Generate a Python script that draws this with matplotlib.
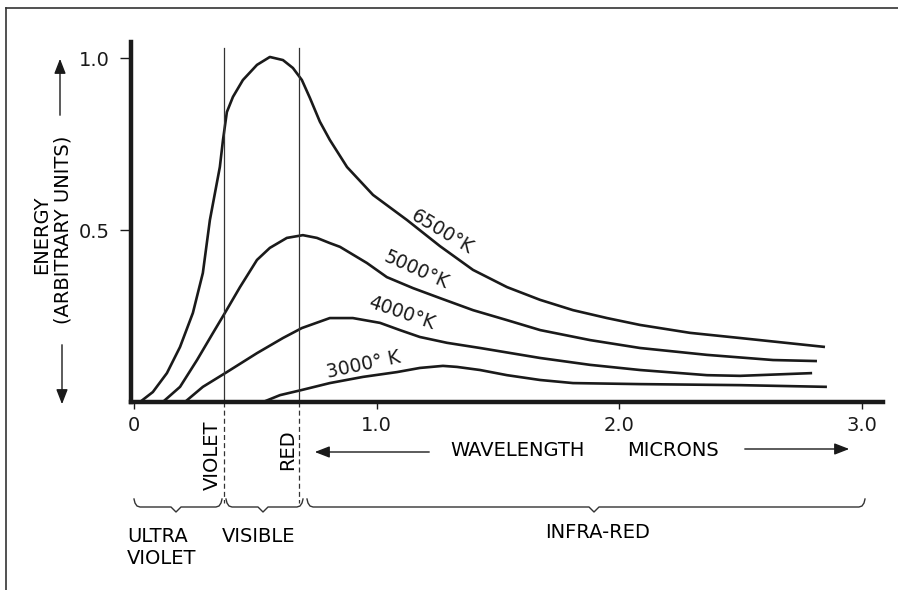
import matplotlib.pyplot as plt
import numpy as np

# Energie-Kurven, x in Mikron, y in willkürlichen Einheiten
x_6500 = [0.025, 0.078, 0.136, 0.19, 0.243, 0.284, 0.313, 0.334, 0.354, 0.367, 0.383, 0.408,
          0.449, 0.507, 0.56, 0.614, 0.655, 0.692, 0.725, 0.766, 0.807, 0.878, 0.985, 1.125,
          1.261, 1.397, 1.537, 1.673, 1.809, 1.949, 2.085, 2.291, 2.497, 2.847]
y_6500 = [0.0, 0.029, 0.084, 0.16, 0.259, 0.375, 0.529, 0.608, 0.683, 0.762, 0.843, 0.887,
          0.936, 0.98, 1.003, 0.994, 0.971, 0.936, 0.884, 0.815, 0.762, 0.683, 0.602, 0.529,
          0.453, 0.384, 0.334, 0.297, 0.267, 0.244, 0.224, 0.201, 0.186, 0.16]

x_5000 = [0.119, 0.19, 0.26, 0.326, 0.375, 0.437, 0.507, 0.56, 0.63, 0.696, 0.754, 0.807,
          0.849, 0.96, 1.042, 1.15, 1.261, 1.397, 1.537, 1.674, 1.879, 2.085, 2.361, 2.633, 2.814]
y_5000 = [0.0, 0.044, 0.122, 0.201, 0.259, 0.334, 0.413, 0.448, 0.477, 0.485, 0.477, 0.462,
          0.451, 0.404, 0.363, 0.331, 0.302, 0.267, 0.238, 0.209, 0.18, 0.157, 0.137, 0.122, 0.119]

x_4000 = [0.21, 0.284, 0.383, 0.507, 0.614, 0.692, 0.807, 0.902, 1.014, 1.096, 1.178, 1.29,
          1.426, 1.673, 1.879, 2.085, 2.361, 2.497, 2.794]
y_4000 = [0.0, 0.044, 0.087, 0.142, 0.186, 0.215, 0.244, 0.244, 0.23, 0.209, 0.189, 0.172,
          0.157, 0.128, 0.108, 0.093, 0.078, 0.076, 0.084]

x_3000 = [0.532, 0.602, 0.692, 0.807, 0.944, 1.084, 1.178, 1.273, 1.331, 1.426, 1.537, 1.673,
          1.809, 2.085, 2.497, 2.855]
y_3000 = [0.0, 0.02, 0.035, 0.055, 0.073, 0.087, 0.099, 0.105, 0.102, 0.093, 0.078, 0.064,
          0.055, 0.052, 0.049, 0.044]

kurven = [(x_6500, y_6500), (x_5000, y_5000), (x_4000, y_4000), (x_3000, y_3000)]

# Beschriftungen der Kurven: Text, x, y, Drehung
etiketten = [("6500°K", 1.269, 0.494, -31),
             ("5000°K", 1.162, 0.384, -24),
             ("4000°K", 1.104, 0.259, -19),
             ("3000° K", 0.948, 0.108, 12)]

violett_grenze = 0.37
rot_grenze = 0.68

x_ticks = [0, 1.0, 2.0, 3.0]
x_tick_labels = ["0", "1.0", "2.0", "3.0"]
y_ticks = [0.5, 1.0]
y_tick_labels = ["0.5", "1.0"]

W, H = 898, 590
fs = 14
plt.rcParams['font.family'] = ['DejaVu Sans']

fig = plt.figure(figsize=(W / 100, H / 100), dpi=100)

# Hauptdiagramm
ax = fig.add_axes([131 / W, 1 - 402 / H, 752 / W, 360 / H])
ax.set_xlim(-0.012, 3.086)
ax.set_ylim(0, 360 / 344)

for xs, ys in kurven:
    ax.plot(xs, ys, color="#1a1a1a", lw=1.9, solid_capstyle="butt",
            solid_joinstyle="round", clip_on=False)

for t, tx, ty, rot in etiketten:
    ax.text(tx, ty, t, fontsize=fs - 0.5, rotation=rot, ha="center", va="center",
            rotation_mode="anchor", color="#1a1a1a")

# Grenzen des sichtbaren Bereichs
for gx in [violett_grenze, rot_grenze]:
    ax.plot([gx, gx], [0, 354 / 344], color="#333333", lw=0.9, clip_on=False)
    ax.plot([gx, gx], [0, -101 / 344], color="#333333", lw=0.9, ls=(0, (4, 2.5)), clip_on=False)

for s in ["top", "right"]:
    ax.spines[s].set_visible(False)
ax.spines["left"].set_linewidth(3.2)
ax.spines["bottom"].set_linewidth(3.2)
ax.spines["left"].set_color("#1a1a1a")
ax.spines["bottom"].set_color("#1a1a1a")

ax.set_xticks(x_ticks)
ax.set_xticklabels(x_tick_labels)
ax.set_yticks(y_ticks)
ax.set_yticklabels(y_tick_labels)
ax.tick_params(axis="x", length=5, width=1, pad=5, labelsize=fs, colors="#1a1a1a")
ax.tick_params(axis="y", length=8, width=1, pad=7, labelsize=fs, colors="#1a1a1a")

# Überlagerung in Pixelkoordinaten für Rahmen, Pfeile, Klammern
ov = fig.add_axes([0, 0, 1, 1], facecolor="none")
ov.set_xlim(0, W)
ov.set_ylim(H, 0)
ov.axis("off")

ov.plot([6, 6], [8, H], color="#333333", lw=1.2)
ov.plot([6, W], [8, 8], color="#333333", lw=1.2)

ov.text(42, 235, "ENERGY", rotation=90, ha="center", va="center", fontsize=fs)
ov.text(63, 230, "(ARBITRARY UNITS)", rotation=90, ha="center", va="center", fontsize=fs)

pfeil = dict(arrowstyle="-|>,head_length=0.9,head_width=0.35", color="#1a1a1a", lw=1)
ov.annotate("", xy=(60, 56), xytext=(60, 118), arrowprops=pfeil)
ov.annotate("", xy=(62, 407), xytext=(62, 342), arrowprops=pfeil)
ov.annotate("", xy=(312, 452), xytext=(432, 452), arrowprops=pfeil)
ov.annotate("", xy=(852, 449), xytext=(742, 449), arrowprops=pfeil)

ov.text(212, 455, "VIOLET", rotation=90, ha="center", va="center", fontsize=fs)
ov.text(288, 450, "RED", rotation=90, ha="center", va="center", fontsize=fs)
ov.text(518, 450, "WAVELENGTH", ha="center", va="center", fontsize=fs)
ov.text(673, 450, "MICRONS", ha="center", va="center", fontsize=fs)

ov.text(127, 537, "ULTRA", ha="left", va="center", fontsize=fs)
ov.text(127, 558, "VIOLET", ha="left", va="center", fontsize=fs)
ov.text(222, 537, "VISIBLE", ha="left", va="center", fontsize=fs)
ov.text(598, 532, "INFRA-RED", ha="center", va="center", fontsize=fs)


def klammer(x0, x1, xt, y=507):
    px = [x0, x0 + 1, x0 + 3, x0 + 6, xt - 5, xt, xt + 5, x1 - 6, x1 - 3, x1 - 1, x1]
    py = [499, 503, 506, y, y, y + 5, y, y, 506, 503, 499]
    ov.plot(px, py, color="#333333", lw=1)


klammer(134, 222, 176)
klammer(226, 303, 263)
klammer(307, 865, 594)

fig.savefig("out.png", dpi=100)
